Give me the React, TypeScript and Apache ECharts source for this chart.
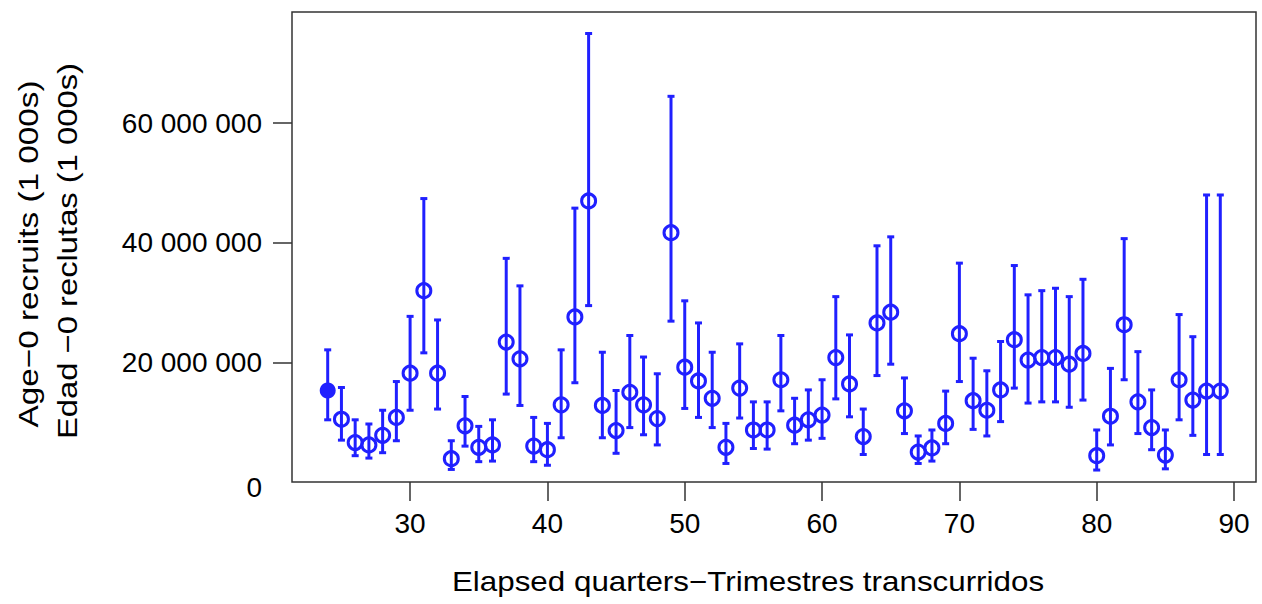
import React, { useEffect, useRef } from "react";
import * as echarts from "echarts";

// Elapsed quarter (x)
const quarters = [
  24, 25, 26, 27, 28, 29, 30, 31, 32, 33,
  34, 35, 36, 37, 38, 39, 40, 41, 42, 43,
  44, 45, 46, 47, 48, 49, 50, 51, 52, 53,
  54, 55, 56, 57, 58, 59, 60, 61, 62, 63,
  64, 65, 66, 67, 68, 69, 70, 71, 72, 73,
  74, 75, 76, 77, 78, 79, 80, 81, 82, 83,
  84, 85, 86, 87, 88, 89,
];
// Recruit estimates, millions
const estimate = [
  15.3, 10.5, 6.6, 6.2, 7.8, 10.8, 18.2, 32.0, 18.2, 3.9,
  9.4, 5.8, 6.2, 23.4, 20.6, 6.0, 5.4, 12.9, 27.6, 47.0,
  12.8, 8.6, 15.0, 12.9, 10.6, 41.7, 19.2, 16.9, 14.0, 5.8,
  15.7, 8.7, 8.7, 17.1, 9.5, 10.4, 11.2, 20.8, 16.4, 7.6,
  26.6, 28.4, 11.9, 5.0, 5.7, 9.8, 24.8, 13.6, 12.0, 15.4,
  23.8, 20.4, 20.8, 20.8, 19.7, 21.5, 4.4, 11.0, 26.3, 13.4,
  9.1, 4.5, 17.1, 13.7, 15.2, 15.2,
];
// Upper confidence bound, millions
const upper = [
  22.1, 15.8, 10.4, 9.7, 12.0, 16.8, 27.7, 47.4, 27.1, 6.9,
  14.3, 9.3, 10.4, 37.4, 32.8, 10.8, 9.8, 22.1, 45.8, 75.0,
  21.7, 15.3, 24.5, 20.9, 18.1, 64.5, 30.3, 26.6, 21.7, 9.8,
  23.1, 13.4, 13.4, 24.5, 14.0, 15.4, 17.1, 31.0, 24.6, 12.2,
  39.5, 41.0, 17.4, 7.7, 8.7, 15.2, 36.6, 20.7, 18.6, 23.5,
  36.2, 31.3, 32.0, 32.4, 31.0, 33.9, 8.7, 19.0, 40.7, 21.8,
  15.4, 8.7, 28.0, 24.3, 48.0, 48.0,
];
// Lower confidence bound, millions
const lower = [
  10.4, 7.0, 4.4, 4.0, 4.9, 6.9, 12.0, 21.6, 12.2, 2.1,
  6.0, 3.4, 3.5, 14.7, 12.8, 3.4, 2.8, 7.4, 16.6, 29.5,
  7.4, 4.8, 9.1, 7.9, 6.2, 26.9, 12.3, 10.8, 9.1, 3.1,
  10.7, 5.6, 5.5, 11.9, 6.4, 7.0, 7.3, 13.9, 10.9, 4.6,
  17.8, 19.7, 8.1, 3.1, 3.5, 6.4, 16.8, 8.8, 7.7, 10.1,
  15.7, 13.2, 13.4, 13.4, 12.5, 13.7, 2.0, 6.2, 17.1, 8.1,
  5.4, 2.2, 10.4, 7.8, 4.6, 4.6,
];

const xTicks = [30, 40, 50, 60, 70, 80, 90];
const yTickLabels = [0, 20000000, 40000000, 60000000];
const yTickMarks = [20000000, 40000000, 60000000];

const xTitle = "Elapsed quarters\u2212Trimestres transcurridos";
const yTitle1 = "Age\u22120 recruits (1 000s)";
const yTitle2 = "Edad \u22120 reclutas (1 000s)";

const BLUE = "#2020ff";
const FONT = "'Liberation Sans', Arial, sans-serif";
const M = 1000000;

function fmt(v: number): string {
  return String(Math.round(v)).replace(/\B(?=(\d{3})+(?!\d))/g, " ");
}

export default function App() {
  const ref = useRef<HTMLDivElement>(null);
  useEffect(() => {
    if (!ref.current) return;
    const chart = echarts.init(ref.current, null, { renderer: "svg" });

    const barData = quarters.map((q, i) => [q, lower[i] * M, upper[i] * M]);
    const openPts = quarters.slice(1).map((q, i) => [q, estimate[i + 1] * M]);
    const filledPts = [[quarters[0], estimate[0] * M]];

    chart.setOption({
      animation: false,
      grid: {
        left: 292,
        right: 6,
        top: 12,
        bottom: 122,
        show: true,
        borderColor: "#333",
        borderWidth: 1.5,
        backgroundColor: "#fff",
      },
      xAxis: {
        type: "value",
        min: 21.4,
        max: 91.6,
        axisLine: { show: false },
        splitLine: { show: false },
        axisTick: {
          show: true,
          customValues: xTicks,
          length: 19,
          lineStyle: { color: "#333", width: 1.5 },
        },
        axisLabel: {
          customValues: xTicks,
          margin: 27,
          fontSize: 28,
          color: "#000",
          fontFamily: FONT,
        },
      },
      yAxis: {
        type: "value",
        min: 0,
        max: 78.6 * M,
        axisLine: { show: false },
        splitLine: { show: false },
        axisTick: {
          show: true,
          customValues: yTickMarks,
          length: 19,
          lineStyle: { color: "#333", width: 1.5 },
        },
        axisLabel: {
          customValues: yTickLabels,
          margin: 30,
          fontSize: 28,
          color: "#000",
          fontFamily: FONT,
          formatter: (v: number) => (v === 0 ? "{z|0}" : fmt(v)),
          rich: {
            z: { fontSize: 28, color: "#000", fontFamily: FONT, padding: [10, 0, 0, 0] },
          },
        },
      },
      series: [
        {
          type: "custom",
          data: barData,
          encode: { x: 0, y: [1, 2] },
          z: 2,
          renderItem: (params: any, api: any) => {
            const x = api.value(0);
            const lo = api.value(1);
            const hi = api.value(2);
            const p1 = api.coord([x, hi]);
            const p2 = api.coord([x, lo]);
            const w = 3.5;
            const style = { stroke: BLUE, lineWidth: 3 };
            return {
              type: "group",
              children: [
                { type: "line", shape: { x1: p1[0], y1: p1[1], x2: p2[0], y2: p2[1] }, style },
                { type: "line", shape: { x1: p1[0] - w, y1: p1[1], x2: p1[0] + w, y2: p1[1] }, style },
                { type: "line", shape: { x1: p2[0] - w, y1: p2[1], x2: p2[0] + w, y2: p2[1] }, style },
              ],
            };
          },
        },
        {
          type: "scatter",
          data: openPts,
          symbol: "circle",
          symbolSize: 14,
          z: 3,
          itemStyle: { color: "rgba(255,255,255,0)", borderColor: BLUE, borderWidth: 3, opacity: 1 },
        },
        {
          type: "scatter",
          data: filledPts,
          symbol: "circle",
          symbolSize: 16,
          z: 3,
          itemStyle: { color: BLUE, opacity: 1 },
        },
      ],
      graphic: [
        {
          type: "text",
          x: 748,
          y: 581,
          scaleX: 1.12,
          style: {
            text: xTitle,
            font: `28px ${FONT}`,
            fill: "#000",
            textAlign: "center",
            textVerticalAlign: "middle",
          },
        },
        {
          type: "text",
          x: 28,
          y: 254,
          rotation: Math.PI / 2,
          scaleX: 1.19,
          style: {
            text: yTitle1,
            font: `28px ${FONT}`,
            fill: "#000",
            textAlign: "center",
            textVerticalAlign: "middle",
          },
        },
        {
          type: "text",
          x: 67,
          y: 251,
          rotation: Math.PI / 2,
          scaleX: 1.17,
          style: {
            text: yTitle2,
            font: `28px ${FONT}`,
            fill: "#000",
            textAlign: "center",
            textVerticalAlign: "middle",
          },
        },
      ],
    });
    return () => chart.dispose();
  }, []);

  return (
    <div
      ref={ref}
      style={{ position: "fixed", left: 0, top: 0, width: 1262, height: 604, background: "#fff" }}
    />
  );
}
